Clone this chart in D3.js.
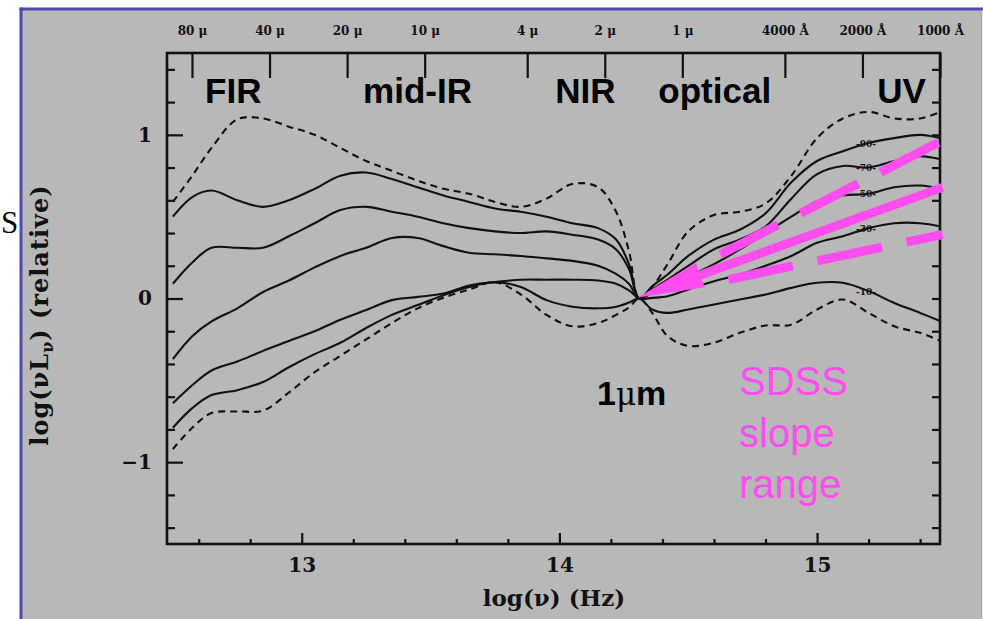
<!DOCTYPE html>
<html><head><meta charset="utf-8">
<script src="https://cdn.jsdelivr.net/npm/d3@7"></script>
<style>body{margin:0;background:#fff;overflow:hidden} svg{display:block}</style>
</head><body><svg id="c" width="983" height="619"></svg>
<script>
// ---------- data ----------
const logNu = [12.5,12.575,12.65,12.75,12.85,12.95,13.05,13.15,13.25,13.35,13.45,13.55,13.65,13.75,13.85,13.95,14.05,14.15,14.22,14.27,14.31,14.36,14.42,14.5,14.6,14.7,14.8,14.9,15.0,15.1,15.2,15.3,15.4,15.48];
const upperEnvelope = [0.59,0.75,0.92,1.095,1.10,1.05,1.00,0.92,0.84,0.78,0.72,0.67,0.64,0.59,0.56,0.61,0.70,0.68,0.53,0.29,0.0,0.07,0.21,0.41,0.51,0.53,0.58,0.75,0.98,1.10,1.14,1.10,1.10,1.14];
const pct90 = [0.50,0.62,0.66,0.60,0.56,0.60,0.67,0.75,0.77,0.73,0.68,0.63,0.59,0.55,0.53,0.50,0.46,0.43,0.36,0.21,0.0,0.075,0.147,0.26,0.36,0.42,0.52,0.71,0.84,0.90,0.95,0.98,1.00,0.98];
const pct70 = [0.09,0.22,0.31,0.31,0.31,0.38,0.46,0.54,0.56,0.53,0.50,0.46,0.43,0.41,0.40,0.41,0.39,0.36,0.30,0.18,0.0,0.055,0.116,0.20,0.30,0.36,0.44,0.61,0.76,0.81,0.80,0.84,0.87,0.85];
const pct50 = [-0.37,-0.23,-0.14,-0.06,0.04,0.11,0.19,0.26,0.31,0.37,0.37,0.32,0.28,0.27,0.26,0.245,0.23,0.20,0.15,0.09,0.0,0.035,0.086,0.136,0.21,0.30,0.40,0.50,0.595,0.63,0.64,0.68,0.69,0.67];
const pct30 = [-0.64,-0.53,-0.44,-0.385,-0.32,-0.26,-0.20,-0.13,-0.07,-0.01,0.01,0.03,0.08,0.10,0.115,0.115,0.115,0.11,0.09,0.05,0.0,0.004,0.014,0.055,0.106,0.147,0.20,0.26,0.34,0.38,0.43,0.46,0.46,0.44];
const pct10 = [-0.79,-0.67,-0.59,-0.56,-0.51,-0.42,-0.34,-0.27,-0.18,-0.10,-0.04,0.02,0.07,0.10,0.07,-0.01,-0.05,-0.06,-0.05,-0.025,0.0,-0.067,-0.088,-0.067,-0.037,-0.006,0.024,0.065,0.096,0.096,0.045,-0.027,-0.088,-0.139];
const lowerEnvelope = [-0.92,-0.79,-0.70,-0.69,-0.685,-0.575,-0.45,-0.35,-0.25,-0.15,-0.06,0.005,0.055,0.10,0.025,-0.10,-0.17,-0.15,-0.10,-0.055,0.0,-0.088,-0.23,-0.29,-0.27,-0.21,-0.165,-0.16,-0.067,-0.006,-0.088,-0.17,-0.21,-0.26];
const markerLabels = ["90","70","50","30","10"];
const markerLogNu = 15.19;

const xMajorTicks = [13,14,15];
const yMajorTicks = [-1,0,1];
const topWavelengthMicron = [80,40,20,10,4,2,1,0.4,0.2,0.1];
const topTickLabels = ["80 μ","40 μ","20 μ","10 μ","4 μ","2 μ","1 μ","4000 Å","2000 Å","1000 Å"];
const bandNames = ["FIR","mid-IR","NIR","optical","UV"];
const bandLogNu = [12.625,13.238,13.984,14.384,15.234];

// SDSS slope range annotation (log nu, log nuLnu)
const slopeUpper = [[14.625,0.269],[15.479,0.960]];
const slopeLower = [[14.656,0.116],[15.487,0.391]];
const slopeArrow = [[15.487,0.679],[14.306,0.006]];

// ---------- layout ----------
const W = 983, H = 619;
const L = 167, R = 940, T = 53, B = 544;
const svg = d3.select("#c");
const pink = "#ff4df0";

svg.append("rect").attr("x",0).attr("y",0).attr("width",W).attr("height",H).attr("fill","#fff");
svg.append("rect").attr("x",22).attr("y",9).attr("width",959).attr("height",H).attr("fill","#b8b8b8");
svg.append("line").attr("x1",21).attr("x2",21).attr("y1",7.5).attr("y2",H).attr("stroke","#4a4ab0").attr("stroke-width",3);
svg.append("line").attr("x1",19.5).attr("x2",983).attr("y1",9).attr("y2",9).attr("stroke","#4a4ab0").attr("stroke-width",3);
svg.append("line").attr("x1",981.5).attr("x2",981.5).attr("y1",10).attr("y2",H).attr("stroke","#a9a6c4").attr("stroke-width",1.5);

// slide text fragment at left
svg.append("text").attr("x",1).attr("y",233).attr("font-family","Liberation Serif, Times New Roman, serif").attr("font-size",31).attr("fill","#000").text("S");

const x = d3.scaleLinear().domain([Math.log10(3e12), Math.log10(3e15)]).range([L,R]);
const y = d3.scaleLinear().domain([-1.5,1.5]).range([B,T]);

const serif = "DejaVu Serif, serif";
const axisCol = "#111";

function minorTicks(a,b,step){const out=[];for(let v=a;v<=b+1e-9;v=+(v+step).toFixed(6)) out.push(v);return out;}
const xMinor = minorTicks(12.6,15.4,0.2).filter(v=>!xMajorTicks.some(m=>Math.abs(m-v)<1e-6));
const yMinor = minorTicks(-1.4,1.4,0.2).filter(v=>!yMajorTicks.some(m=>Math.abs(m-v)<1e-6));

function styleAxis(g){g.select(".domain").remove();g.selectAll("line").attr("stroke",axisCol).attr("stroke-width",2.2);g.selectAll("text").attr("fill","#111").attr("font-family",serif).attr("font-weight","bold");}

// bottom
svg.append("g").attr("transform",`translate(0,${B})`).call(d3.axisBottom(x).tickValues(xMinor).tickSize(-5).tickFormat("")).call(styleAxis);
svg.append("g").attr("transform",`translate(0,${B})`).call(d3.axisBottom(x).tickValues(xMajorTicks).tickSize(-11).tickPadding(14).tickFormat(d3.format("d"))).call(styleAxis).selectAll("text").attr("font-size",20);
// left
svg.append("g").attr("transform",`translate(${L},0)`).call(d3.axisLeft(y).tickValues(yMinor).tickSize(-8).tickFormat("")).call(styleAxis);
svg.append("g").attr("transform",`translate(${L},0)`).call(d3.axisLeft(y).tickValues(yMajorTicks).tickSize(-16).tickPadding(15).tickFormat(d=>d<0?"−"+Math.abs(d):d)).call(styleAxis).selectAll("text").attr("font-size",20);
// right
svg.append("g").attr("transform",`translate(${R},0)`).call(d3.axisRight(y).tickValues(yMinor.concat(yMajorTicks)).tickSize(-8).tickFormat("")).call(styleAxis);
// top
const topPos = topWavelengthMicron.map(l=>Math.log10(3e14/l));
svg.append("g").attr("transform",`translate(0,${T})`).call(d3.axisTop(x).tickValues(topPos).tickSize(-25).tickPadding(18).tickFormat((d,i)=>topTickLabels[i])).call(styleAxis).selectAll("text").attr("font-size",12);

// frame
svg.append("rect").attr("x",L).attr("y",T).attr("width",R-L).attr("height",B-T).attr("fill","none").attr("stroke",axisCol).attr("stroke-width",2.6);

// axis titles
svg.append("text").attr("x",554).attr("y",606).attr("text-anchor","middle").attr("font-family",serif).attr("font-weight","bold").attr("font-size",23).attr("fill","#111").text("log(ν)  (Hz)");
const yt = svg.append("text").attr("transform","translate(48,315) rotate(-90)").attr("text-anchor","middle").attr("font-family",serif).attr("font-weight","bold").attr("font-size",24).attr("letter-spacing",1).attr("fill","#111");
yt.append("tspan").text("log(νL");
yt.append("tspan").attr("font-size",16).attr("dy",5).text("ν");
yt.append("tspan").attr("dy",-5).text(")  (relative)");

// curves
const line = d3.line().x(d=>x(d[0])).y(d=>y(d[1])).curve(d3.curveCatmullRom.alpha(0.5));
const series = [
  {v:upperEnvelope,dash:true},{v:pct90},{v:pct70},{v:pct50},{v:pct30},{v:pct10},{v:lowerEnvelope,dash:true}
];
const cg = svg.append("g");
series.forEach(s=>{
  cg.append("path").datum(logNu.map((n,i)=>[n,s.v[i]])).attr("d",line).attr("fill","none")
    .attr("stroke","#111").attr("stroke-width",2.1).attr("stroke-dasharray",s.dash?"7 5":null);
});
// percentile markers
[pct90,pct70,pct50,pct30,pct10].forEach((arr,k)=>{
  const i = logNu.indexOf(15.2);
  svg.append("text").attr("x",x(markerLogNu)).attr("y",y(arr[i])+3.5).attr("text-anchor","middle")
    .attr("font-family",serif).attr("font-weight","bold").attr("font-size",9).attr("fill","#111").text("-"+markerLabels[k]+"-");
});

// band labels
const sans = "Liberation Sans, Arial, Helvetica, sans-serif";
bandNames.forEach((b,i)=>{
  svg.append("text").attr("x",x(bandLogNu[i])).attr("y",103).attr("font-family",sans).attr("font-weight","bold").attr("font-size",35).attr("fill","#000").text(b);
});
const um = svg.append("text").attr("x",597).attr("y",405).attr("font-family",sans).attr("font-weight","bold").attr("font-size",34).attr("fill","#000");
um.append("tspan").text("1");
um.append("tspan").attr("font-family","DejaVu Serif, serif").attr("font-weight","normal").attr("font-size",31).text("μ");
um.append("tspan").text("m");

// SDSS slope annotation
const pl = d3.line().x(d=>x(d[0])).y(d=>y(d[1]));
svg.append("path").datum(slopeUpper).attr("d",pl).attr("stroke",pink).attr("stroke-width",9).attr("fill","none").attr("stroke-dasharray","65 25");
svg.append("path").datum(slopeLower).attr("d",pl).attr("stroke",pink).attr("stroke-width",9).attr("fill","none").attr("stroke-dasharray","66 25");
const a0 = [x(slopeArrow[0][0]),y(slopeArrow[0][1])], a1=[x(slopeArrow[1][0]),y(slopeArrow[1][1])];
const dx=a1[0]-a0[0], dy=a1[1]-a0[1], len=Math.hypot(dx,dy), ux=dx/len, uy=dy/len;
const headL=66, headW=13;
const bx=a1[0]-ux*headL, by=a1[1]-uy*headL;
svg.append("line").attr("x1",a0[0]).attr("y1",a0[1]).attr("x2",bx+ux*5).attr("y2",by+uy*5).attr("stroke",pink).attr("stroke-width",9);
svg.append("path").attr("d",`M${a1[0]},${a1[1]}L${bx-uy*headW},${by+ux*headW}L${bx+uy*headW},${by-ux*headW}Z`).attr("fill",pink);

const st = svg.append("text").attr("font-family",sans).attr("font-size",40).attr("fill",pink);
["SDSS","slope","range"].forEach((t,i)=>st.append("tspan").attr("x",739).attr("y",395+i*51.5).text(t));
</script></body></html>
